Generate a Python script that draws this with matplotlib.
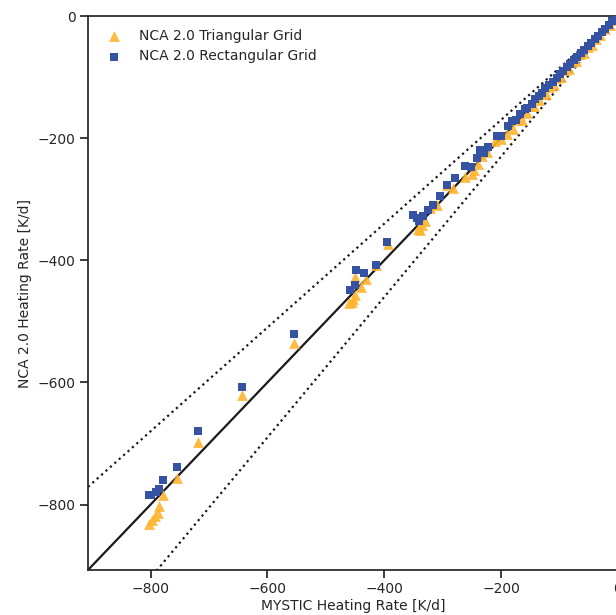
import numpy as np
import matplotlib.pyplot as plt

# heating rates [K/d]: MYSTIC reference vs NCA 2.0 on two grids
rect_mystic = [-803, -800, -791, -786, -778, -754, -718, -644, -554, -458, -450, -448,
               -434, -414, -395, -350, -344, -340, -333, -325, -316, -304, -292, -279,
               -262, -252, -242, -236, -230, -222, -207, -200, -188, -182, -175, -168,
               -160, -155, -148, -142, -136, -130, -125, -118, -112, -105, -100, -94,
               -88, -82, -76, -70, -64, -58, -52, -46, -40, -34, -28, -22, -16, -10, -5]
rect_nca = [-785, -784, -780, -774, -759, -738, -679, -607, -520, -448, -441, -416,
            -421, -407, -370, -325, -331, -335, -327, -318, -310, -294, -276, -266,
            -245, -248, -232, -220, -224, -215, -197, -196, -180, -172, -170, -160,
            -153, -150, -144, -136, -131, -126, -118, -113, -108, -101, -95, -90,
            -83, -79, -72, -67, -61, -55, -49, -44, -38, -32, -27, -21, -15, -9, -5]

tri_mystic = [-802, -797, -793, -788, -785, -779, -754, -718, -644, -554, -460, -456,
              -453, -450, -439, -450, -432, -414, -393, -342, -338, -335, -330, -321,
              -310, -292, -282, -262, -250, -246, -240, -232, -225, -210, -200, -190,
              -180, -172, -165, -155, -150, -143, -136, -130, -124, -118, -110, -104,
              -98, -90, -84, -78, -72, -65, -58, -52, -45, -38, -30, -22, -14, -6]
tri_nca = [-831, -825, -818, -813, -803, -785, -756, -698, -621, -536, -470, -469,
           -464, -457, -444, -428, -431, -408, -374, -348, -351, -342, -336, -315,
           -309, -277, -282, -263, -258, -252, -243, -229, -222, -205, -202, -193,
           -185, -170, -170, -158, -148, -147, -138, -127, -127, -116, -113, -102,
           -100, -88, -86, -76, -74, -63, -60, -50, -47, -37, -31, -22, -14, -6]

ORANGE = '#FDB42F'
BLUE = '#3652A2'
TEXT = '#262626'

plt.rcParams.update({
    'font.family': 'DejaVu Sans',
    'font.size': 10,
    'text.color': TEXT,
    'axes.labelcolor': TEXT,
    'xtick.color': TEXT,
    'ytick.color': TEXT,
    'axes.edgecolor': TEXT,
    'axes.linewidth': 1.25,
    'xtick.major.width': 1.25,
    'ytick.major.width': 1.25,
    'xtick.major.size': 6,
    'ytick.major.size': 6,
    'xtick.major.pad': 2.5,
    'ytick.major.pad': 3,
})

fig = plt.figure(figsize=(6.16, 6.15), dpi=100)
ax = fig.add_axes([88 / 616, 45 / 615, 530 / 616, 554 / 615])

lim = (-907, 0)
ref = np.array(lim)
ax.plot(ref, ref, color='#1a1a1a', lw=1.6, zorder=1)
ax.plot(ref, 0.85 * ref, color='#1a1a1a', lw=1.6, ls=':', zorder=1)
ax.plot(ref, 1.15 * ref, color='#1a1a1a', lw=1.6, ls=':', zorder=1)

ax.scatter(tri_mystic, tri_nca, marker='^', s=60, color=ORANGE, alpha=0.9,
           linewidths=0, label='NCA 2.0 Triangular Grid', zorder=2)
ax.scatter(rect_mystic, rect_nca, marker='s', s=26, color=BLUE,
           linewidths=0, label='NCA 2.0 Rectangular Grid', zorder=3)

ax.set_xlim(*lim)
ax.set_ylim(*lim)
ax.set_xticks([-800, -600, -400, -200, 0])
ax.set_yticks([-800, -600, -400, -200, 0])
ax.set_xlabel('MYSTIC Heating Rate [K/d]', labelpad=2)
ax.set_ylabel('NCA 2.0 Heating Rate [K/d]', labelpad=4)

ax.legend(loc='upper left', frameon=False, scatterpoints=1)

fig.savefig('out.png', dpi=100)
